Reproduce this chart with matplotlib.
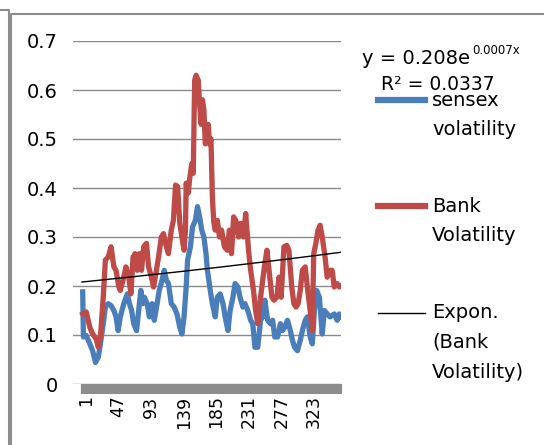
import numpy as np
import matplotlib
matplotlib.use('Agg')
import matplotlib.pyplot as plt
from matplotlib.lines import Line2D
from matplotlib.transforms import ScaledTranslation

plt.rcParams['font.family'] = ['DejaVu Sans']

n_obs = 366
sensex_idx = [2, 3, 7, 12, 16, 20, 24, 27, 31, 34, 38, 42, 46, 49, 52, 55, 60, 65, 68, 71,
              74, 78, 81, 84, 87, 89, 93, 96, 100, 103, 107, 110, 114, 117, 120, 123, 127,
              131, 135, 139, 142, 145, 148, 150, 154, 157, 161, 164, 167, 170, 173, 176,
              178, 182, 185, 189, 192, 196, 200, 203, 207, 210, 214, 217, 221, 224, 228,
              231, 235, 239, 242, 245, 249, 253, 256, 259, 263, 267, 270, 273, 277, 281,
              284, 287, 291, 295, 298, 301, 305, 309, 312, 316, 319, 323, 326, 329, 332,
              336, 340, 343, 347, 351, 357, 361, 364, 366]
sensex_vol = [0.188, 0.096, 0.099, 0.082, 0.068, 0.044, 0.055, 0.082, 0.123, 0.157, 0.164,
              0.160, 0.150, 0.137, 0.109, 0.137, 0.164, 0.184, 0.164, 0.150, 0.123, 0.109,
              0.150, 0.191, 0.164, 0.177, 0.164, 0.137, 0.164, 0.130, 0.164, 0.191, 0.212,
              0.232, 0.212, 0.205, 0.164, 0.157, 0.143, 0.116, 0.102, 0.137, 0.198, 0.253,
              0.280, 0.321, 0.334, 0.362, 0.341, 0.314, 0.300, 0.266, 0.232, 0.191, 0.164,
              0.137, 0.177, 0.184, 0.164, 0.137, 0.109, 0.150, 0.177, 0.205, 0.198, 0.177,
              0.157, 0.164, 0.150, 0.130, 0.123, 0.075, 0.075, 0.130, 0.137, 0.171, 0.130,
              0.123, 0.130, 0.096, 0.096, 0.123, 0.109, 0.116, 0.130, 0.109, 0.089, 0.075,
              0.068, 0.089, 0.109, 0.130, 0.137, 0.096, 0.082, 0.150, 0.191, 0.177, 0.102,
              0.150, 0.143, 0.137, 0.143, 0.130, 0.143, 0.137]

bank_idx = [2, 7, 12, 16, 21, 24, 27, 31, 34, 38, 42, 46, 49, 53, 55, 59, 63, 67, 70, 73,
            76, 79, 82, 85, 88, 92, 95, 99, 102, 106, 109, 113, 116, 120, 123, 127, 130,
            133, 136, 139, 142, 145, 147, 148, 151, 153, 156, 158, 160, 162, 165, 167, 169,
            171, 173, 175, 177, 179, 181, 183, 185, 187, 189, 192, 195, 198, 202, 206, 209,
            212, 215, 218, 222, 225, 229, 232, 236, 239, 243, 246, 249, 253, 256, 259, 262,
            265, 269, 272, 276, 279, 282, 286, 290, 293, 297, 300, 303, 306, 309, 312, 316,
            319, 323, 326, 328, 331, 334, 337, 340, 344, 347, 351, 354, 357, 361, 364, 366]
bank_vol = [0.143, 0.147, 0.116, 0.102, 0.092, 0.075, 0.096, 0.177, 0.253, 0.259, 0.280,
            0.239, 0.232, 0.198, 0.191, 0.212, 0.239, 0.218, 0.184, 0.259, 0.266, 0.232,
            0.266, 0.232, 0.280, 0.287, 0.239, 0.218, 0.198, 0.232, 0.259, 0.300, 0.307,
            0.280, 0.266, 0.314, 0.334, 0.406, 0.403, 0.328, 0.300, 0.273, 0.314, 0.410,
            0.390, 0.420, 0.450, 0.430, 0.620, 0.630, 0.620, 0.570, 0.530, 0.580, 0.560,
            0.490, 0.500, 0.530, 0.490, 0.500, 0.380, 0.330, 0.314, 0.334, 0.300, 0.314,
            0.280, 0.273, 0.314, 0.266, 0.341, 0.334, 0.300, 0.328, 0.300, 0.348, 0.273,
            0.232, 0.191, 0.150, 0.123, 0.177, 0.212, 0.246, 0.273, 0.232, 0.177, 0.171,
            0.177, 0.218, 0.177, 0.280, 0.283, 0.273, 0.198, 0.164, 0.157, 0.164, 0.191,
            0.232, 0.239, 0.198, 0.150, 0.109, 0.266, 0.287, 0.314, 0.324, 0.300, 0.259,
            0.218, 0.232, 0.232, 0.198, 0.205, 0.198, 0.200]

# exponential trendline as printed on the chart
trend_a, trend_b = 0.208, 0.0007
trend_r2 = 0.0337

x_ticks = [1, 47, 93, 139, 185, 231, 277, 323]
y_ticks = [0, 0.1, 0.2, 0.3, 0.4, 0.5, 0.6, 0.7]

blue = '#4a7ebb'
red = '#be4b48'
grid_c = '#8a8a8a'

W, H = 544, 445
fig = plt.figure(figsize=(W / 100, H / 100), dpi=100)


def fx(px):
    return px / W


def fy(py):
    return 1 - py / H


ax = fig.add_axes([fx(73), fy(384), fx(341) - fx(73), fy(41) - fy(384)])

ax.plot(sensex_idx, sensex_vol, color=blue, lw=3.8, solid_joinstyle='round', zorder=3)
ax.plot(bank_idx, bank_vol, color=red, lw=3.8, solid_joinstyle='round', zorder=4)
tx = np.arange(1, n_obs + 1)
ax.plot(tx, trend_a * np.exp(trend_b * tx), color='black', lw=1.0, zorder=5)

ax.set_xlim(-11.7, n_obs + 0.5)
ax.set_ylim(0, 0.7)
for s in ax.spines.values():
    s.set_visible(False)
ax.set_yticks(y_ticks)
ax.set_yticklabels(['0' if v == 0 else f'{v:.1f}' for v in y_ticks])
ax.yaxis.grid(True, color=grid_c, lw=1.0)
ax.set_axisbelow(True)
ax.tick_params(axis='y', length=0, pad=11, labelsize=14)

ax.set_xticks(x_ticks)
ax.set_xticklabels([str(t) for t in x_ticks], rotation=90)
ax.set_xticks(np.arange(1, n_obs + 1), minor=True)
ax.tick_params(axis='x', which='both', length=7.2, width=1.6, color='#8c8c8c',
               direction='out', pad=1, labelsize=12.5)
# labels sit a few pixels right of their tick in the reference
shift = ScaledTranslation(4 / 100, 0, fig.dpi_scale_trans)
for lab in ax.get_xticklabels():
    lab.set_transform(lab.get_transform() + shift)

# legend drawn by hand so the handles sit on the first text line
legend_rows = [
    (blue, 4.5, 100, ['sensex', 'volatility']),
    (red, 4.5, 206, ['Bank', 'Volatility']),
    ('black', 1.0, 313, ['Expon.', '(Bank', 'Volatility)']),
]
for color, lw, py, lines in legend_rows:
    fig.add_artist(Line2D([fx(378), fx(425)], [fy(py), fy(py)], color=color, lw=lw))
    for k, txt in enumerate(lines):
        fig.text(fx(432), fy(py + k * 29.5), txt, fontsize=14, va='center', ha='left')

# trendline equation
fig.text(fx(362), fy(58), f'y = {trend_a:.3f}e', fontsize=14, va='center', ha='left')
fig.text(fx(472), fy(51), f'{trend_b:.4f}x', fontsize=8.5, va='center', ha='left')
fig.text(fx(381), fy(85), f'R\u00b2 = {trend_r2:.4f}', fontsize=13.5, va='center', ha='left')

# outer frame
frame_c = '#8c8c8c'
fig.add_artist(Line2D([fx(0), fx(9), fx(9)], [fy(10), fy(10), fy(H)], color=frame_c, lw=1.5))
fig.add_artist(Line2D([fx(11), fx(11), fx(W)], [fy(H), fy(14), fy(14)], color=frame_c, lw=1.5))

fig.savefig('out.png', dpi=100)
